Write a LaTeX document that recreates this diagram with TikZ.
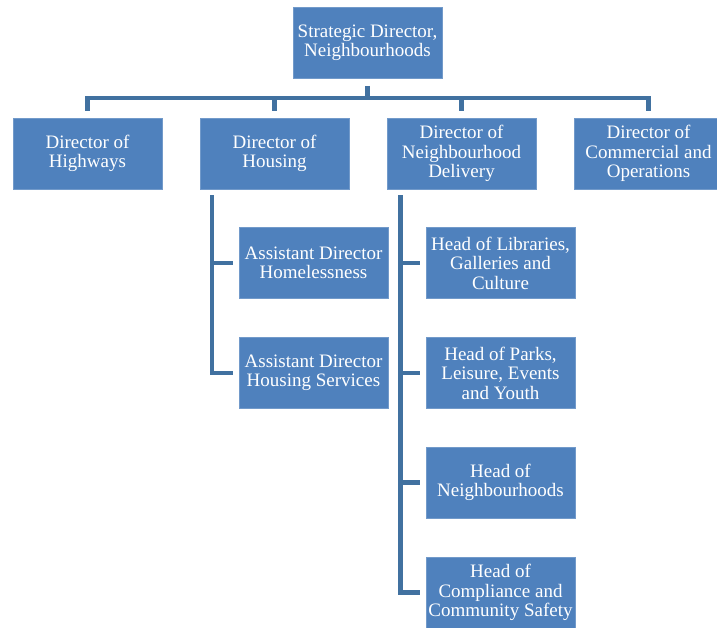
\documentclass[tikz,border=0pt]{standalone}
\usepackage{fontspec}
\setmainfont{Liberation Serif}
\definecolor{boxblue}{RGB}{79,129,189}
\definecolor{linkblue}{RGB}{65,113,160}
\tikzset{
  post/.style={fill=boxblue, draw=boxblue!80!white, line width=0.8pt, text=white,
    minimum width=149pt, minimum height=71pt, inner sep=0pt,
    align=center, font=\fontsize{19}{19.5}\selectfont},
  link/.style={draw=linkblue, line width=4.5pt}
}
\begin{document}
\begin{tikzpicture}[x=1pt,y=1pt]
\useasboundingbox (0,0) rectangle (717,-627);
% top of the tree
\node [post] (sd) at (367.5,-43) {Strategic Director,\\Neighbourhoods};

% directors
\node [post] (hw) at (87.5,-153.5) {Director of\\Highways};
\node [post] (hs) at (274.5,-153.5) {Director of\\Housing};
\node [post] (nd) at (461.5,-153.5) {Director of\\Neighbourhood\\Delivery};
\node [post] (co) at (648.5,-153.5) {Director of\\Commercial and\\Operations};

% under housing
\node [post] (ad1) at (313.5,-263) {Assistant Director\\Homelessness};
\node [post] (ad2) at (313.5,-373) {Assistant Director\\Housing Services};

% under neighbourhood delivery
\node [post] (hd1) at (500.5,-263) {Head of Libraries,\\Galleries and\\Culture};
\node [post] (hd2) at (500.5,-373) {Head of Parks,\\Leisure, Events\\and Youth};
\node [post] (hd3) at (500.5,-482.5) {Head of\\Neighbourhoods};
\node [post] (hd4) at (500.5,-592.5) {Head of\\Compliance and\\Community Safety};

% connectors
\coordinate (bar) at ([yshift=-19pt]sd.south);
\draw [link, shorten <=7pt] (sd.south) -- (bar);
\draw [link, shorten >=7pt] (bar) -| (hw.north);
\draw [link, shorten >=7pt] (bar) -| (hs.north);
\draw [link, shorten >=7pt] (bar) -| (nd.north);
\draw [link, shorten >=7pt] (bar) -| (co.north);

\coordinate (hsdown) at ([xshift=12.5pt,yshift=-6pt]hs.south west);
\draw [link, shorten >=6pt] (hsdown) |- (ad1.west);
\draw [link, shorten >=6pt] (hsdown) |- (ad2.west);

\coordinate (nddown) at ([xshift=14pt,yshift=-6pt]nd.south west);
\draw [link, shorten >=6pt] (nddown) |- (hd1.west);
\draw [link, shorten >=6pt] (nddown) |- (hd2.west);
\draw [link, shorten >=6pt] (nddown) |- (hd3.west);
\draw [link, shorten >=6pt] (nddown) |- (hd4.west);
\end{tikzpicture}
\end{document}
